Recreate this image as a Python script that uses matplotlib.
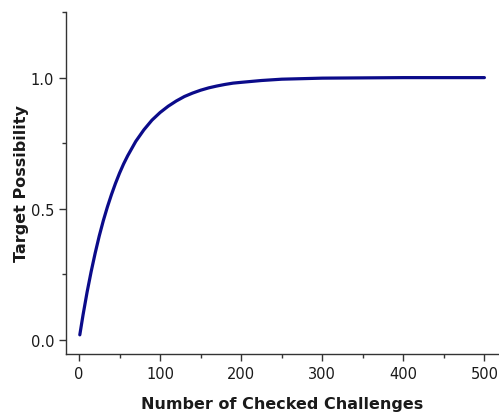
import matplotlib
matplotlib.use("Agg")
import matplotlib.pyplot as plt
from matplotlib.ticker import MultipleLocator

# values
checked = [1, 5, 10, 15, 20, 25, 30, 35, 40, 45, 50, 55, 60, 70, 80, 90, 100,
           110, 120, 130, 140, 150, 160, 170, 180, 190, 200, 225, 250, 300,
           350, 400, 450, 500]
possibility = [0.020, 0.096, 0.183, 0.261, 0.332, 0.397, 0.455, 0.507, 0.554,
               0.597, 0.636, 0.671, 0.702, 0.757, 0.801, 0.838, 0.867,
               0.891, 0.911, 0.928, 0.941, 0.952, 0.961, 0.968, 0.974,
               0.979, 0.982, 0.989, 0.994, 0.998, 0.999, 1.000, 1.000, 1.000]

x_ticks = [0, 100, 200, 300, 400, 500]
y_ticks = [0.0, 0.5, 1.0]

fig = plt.figure(figsize=(4.99, 4.14), dpi=100)
ax = fig.add_axes([0.1323, 0.1425, 0.8677, 0.8261])

ax.plot(checked, possibility, color="#0b0b8a", lw=2.3, solid_capstyle="round")

ax.set_xlim(-16, 518)
ax.set_ylim(-0.053, 1.25)
ax.set_xticks(x_ticks)
ax.set_yticks(y_ticks)
ax.set_yticklabels(["%.1f" % v for v in y_ticks])
ax.xaxis.set_minor_locator(MultipleLocator(50))
ax.yaxis.set_minor_locator(MultipleLocator(0.25))

for s in ["top", "right"]:
    ax.spines[s].set_visible(False)
for s in ["left", "bottom"]:
    ax.spines[s].set_color("#333333")
    ax.spines[s].set_linewidth(1.0)

ax.tick_params(which="major", length=5, width=1, color="#333333",
               labelsize=10.5, labelcolor="#1a1a1a")
ax.tick_params(which="minor", length=3, width=1, color="#333333")
ax.yaxis.set_minor_formatter(plt.NullFormatter())

ax.set_xlabel("Number of Checked Challenges", fontsize=11.5, fontweight="bold",
              color="#1a1a1a", labelpad=11)
ax.set_ylabel("Target Possibility", fontsize=11.5, fontweight="bold",
              color="#1a1a1a", labelpad=1)

fig.savefig("out.png", dpi=100)
